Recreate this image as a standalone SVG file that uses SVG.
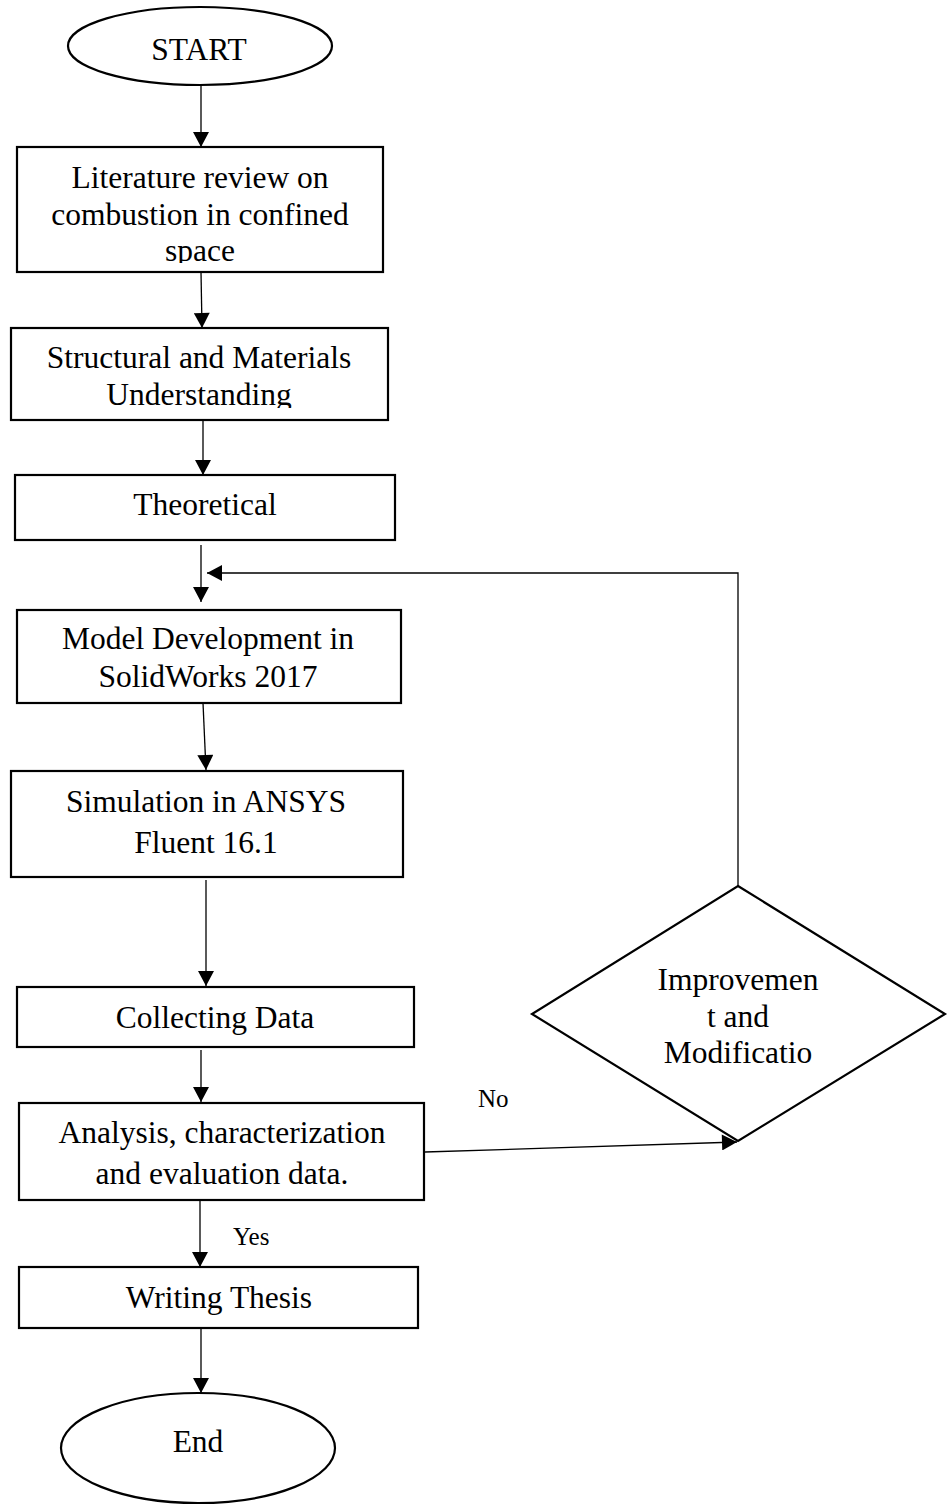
<svg xmlns="http://www.w3.org/2000/svg" width="952" height="1505" viewBox="0 0 952 1505">
<style>
.node{fill:#fff;stroke:#000;stroke-width:2.2}
.t{font-family:"Liberation Serif","Times New Roman",serif;font-size:31.5px;fill:#000;text-anchor:middle}
.lbl{font-family:"Liberation Serif","Times New Roman",serif;font-size:25px;fill:#000}
.c{fill:none;stroke:#000;stroke-width:1.3}
</style>
<defs>
<marker id="ah" markerUnits="userSpaceOnUse" markerWidth="16" markerHeight="16" viewBox="0 0 15 16" refX="15" refY="8" orient="auto">
<path d="M0,0 L15,8 L0,16 Z" fill="#000"/>
</marker>
<clipPath id="clip1"><rect x="17" y="147" width="366" height="116"/></clipPath>
<clipPath id="clip2"><rect x="11" y="328" width="377" height="80"/></clipPath>
</defs>
<rect width="952" height="1505" fill="#fff"/>
<g id="connectors">
<line class="c" x1="201" y1="86" x2="201" y2="147" marker-end="url(#ah)"/>
<line class="c" x1="201" y1="272" x2="202" y2="328" marker-end="url(#ah)"/>
<line class="c" x1="203" y1="420" x2="203" y2="475" marker-end="url(#ah)"/>
<line class="c" x1="201" y1="545" x2="201" y2="602" marker-end="url(#ah)"/>
<line class="c" x1="203" y1="703" x2="206" y2="770" marker-end="url(#ah)"/>
<line class="c" x1="206" y1="880" x2="206" y2="986" marker-end="url(#ah)"/>
<line class="c" x1="201" y1="1050" x2="201" y2="1102" marker-end="url(#ah)"/>
<line class="c" x1="200" y1="1200" x2="200" y2="1267" marker-end="url(#ah)"/>
<line class="c" x1="201" y1="1328" x2="201" y2="1393" marker-end="url(#ah)"/>
<polyline class="c" points="738,886 738,573 207,573" marker-end="url(#ah)"/>
<line class="c" x1="425" y1="1152" x2="737" y2="1142" marker-end="url(#ah)"/>
<text class="lbl" x="478" y="1107">No</text>
<text class="lbl" x="233" y="1245">Yes</text>
</g>
<g id="start">
<ellipse class="node" cx="200" cy="46" rx="132" ry="39"/>
<text class="t" x="199" y="60">START</text>
</g>
<g id="literature">
<rect class="node" x="17" y="147" width="366" height="125"/>
<g clip-path="url(#clip1)">
<text class="t" x="200" y="188">Literature review on</text>
<text class="t" x="200" y="224.5">combustion in confined</text>
<text class="t" x="200" y="261">space</text>
</g>
</g>
<g id="structural">
<rect class="node" x="11" y="328" width="377" height="92"/>
<g clip-path="url(#clip2)">
<text class="t" x="199" y="368">Structural and Materials</text>
<text class="t" x="199" y="405">Understanding</text>
</g>
</g>
<g id="theoretical">
<rect class="node" x="15" y="475" width="380" height="65"/>
<text class="t" x="205" y="515">Theoretical</text>
</g>
<g id="model">
<rect class="node" x="17" y="610" width="384" height="93"/>
<text class="t" x="208" y="649">Model Development in</text>
<text class="t" x="208" y="687">SolidWorks 2017</text>
</g>
<g id="simulation">
<rect class="node" x="11" y="771" width="392" height="106"/>
<text class="t" x="206" y="812">Simulation in ANSYS</text>
<text class="t" x="206" y="853">Fluent 16.1</text>
</g>
<g id="collecting">
<rect class="node" x="17" y="987" width="397" height="60"/>
<text class="t" x="215" y="1028">Collecting Data</text>
</g>
<g id="analysis">
<rect class="node" x="19" y="1103" width="405" height="97"/>
<text class="t" x="222" y="1143">Analysis, characterization</text>
<text class="t" x="222" y="1184">and evaluation data.</text>
</g>
<g id="writing">
<rect class="node" x="19" y="1267" width="399" height="61"/>
<text class="t" x="219" y="1308">Writing Thesis</text>
</g>
<g id="end">
<ellipse class="node" cx="198" cy="1448" rx="137" ry="55"/>
<text class="t" x="198" y="1452">End</text>
</g>
<g id="improvement">
<polygon class="node" points="738,886 945,1014 738,1141 532,1014"/>
<text class="t" x="738" y="990">Improvemen</text>
<text class="t" x="738" y="1027">t and</text>
<text class="t" x="738" y="1063">Modificatio</text>
</g>
</svg>
